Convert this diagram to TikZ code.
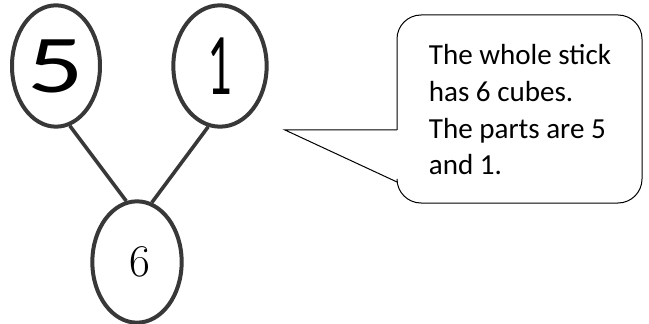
\documentclass[tikz,border=0pt]{standalone}
\usepackage{fontspec}
\usetikzlibrary{shapes.geometric}
\newfontfamily\calloutfont{Carlito}
\tikzset{every picture/.style={line width=0.75pt}}
\tikzset{
  bond/.style={ellipse, draw={black!78}, line width=3pt, inner sep=0pt, minimum width=66pt, minimum height=91pt},
  stick/.style={draw={black!78}, line width=2.7pt},
}

\begin{document}
\begin{tikzpicture}[x=0.75pt,y=0.75pt,yscale=-1,xscale=1]
\useasboundingbox (0,0) rectangle (649,324);

%Shape: Ellipse [id:five]
\node [bond] (five) at (56,66) {\calloutfont\fontsize{44}{44}\selectfont\raisebox{-5pt}{\scalebox{1.9}[1.4]{5}}};
%Shape: Ellipse [id:one]
\node [bond, minimum width=70pt] (one) at (220,66) {\calloutfont\fontsize{66}{66}\selectfont\scalebox{0.55}[1]{1}};
%Shape: Ellipse [id:six]
\node [bond, minimum width=67pt] (six) at (137,262) {\fontsize{34}{34}\selectfont\hspace*{5pt}6};

%Straight Lines
\draw [stick] (five.-77) -- (six.100) ;
%Straight Lines
\draw [stick] (one.-101) -- (six.76) ;

%Shape: Callout
\coordinate (tip) at (285,130);
\coordinate (top) at (397,130);
\coordinate (bot) at (397,182);
\draw [rounded corners=18pt] (top) -- (397,15) -- (642,15) -- (642,203) -- (397,203) -- (bot) ;
\draw (top) -- (tip) -- (bot) ;

% Text Node
\node [inner sep=0pt, align=left, font=\calloutfont\fontsize{21.8}{27.5}\selectfont] (words) at (520,110) {The whole stick\\has 6 cubes.\\The parts are 5\\and 1.};

\end{tikzpicture}
\end{document}
